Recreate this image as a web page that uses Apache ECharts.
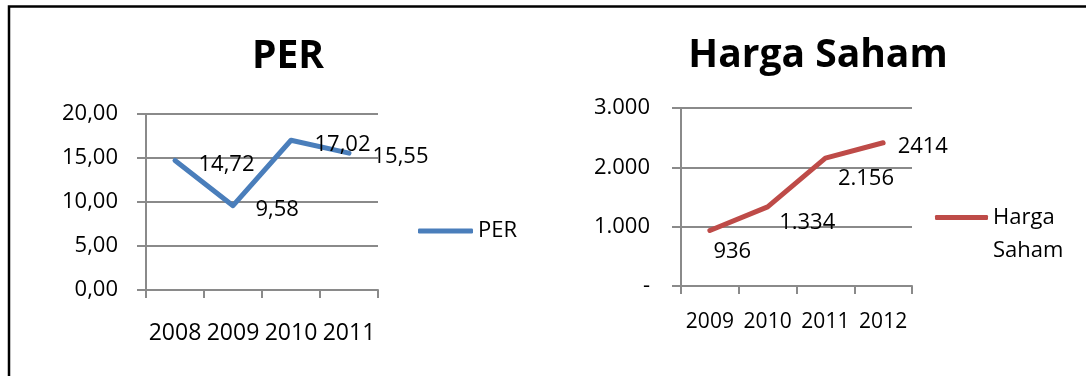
<!DOCTYPE html>
<html>
<head>
<meta charset="utf-8">
<title>PER dan Harga Saham</title>
<script src="https://cdn.jsdelivr.net/npm/echarts@6/dist/echarts.min.js"></script>
<style>
  html, body { margin: 0; padding: 0; background: #fff; }
  #chart { width: 1086px; height: 376px; }
</style>
</head>
<body>
<div id="chart"></div>
<script>
// data
var perYears = ['2008', '2009', '2010', '2011'];
var perValues = [14.72, 9.58, 17.02, 15.55];
var perTicks = [0, 5, 10, 15, 20];

var hargaYears = ['2009', '2010', '2011', '2012'];
var hargaValues = [936, 1334, 2156, 2414];
var hargaLabels = ['936', '1.334', '2.156', '2414'];
var hargaTicks = [0, 1000, 2000, 3000];

// where each data label sits next to its point
var perLabelOffset = [[23, 4], [22, 4], [23, 5], [23, 4]];
var hargaLabelOffset = [[3, 21], [11, 16], [12, 21], [14, 4]];

var FONT = '"Open Sans", "Noto Sans", sans-serif';
var GRAY = '#8a8a8a';
var BLUE = '#4a7ebb';
var RED = '#be4b48';

function thousand(v) {
  if (v === 0) return '-';
  return String(v).replace(/\B(?=(\d{3})+(?!\d))/g, '.');
}

function xAxisOf(idx, cats, size, margin) {
  return {
    type: 'category', gridIndex: idx, data: cats, boundaryGap: true,
    axisLine: { show: true, lineStyle: { color: GRAY, width: 2 } },
    axisTick: { show: true, length: 8, alignWithLabel: false, lineStyle: { color: GRAY, width: 2 } },
    axisLabel: { color: '#000', fontFamily: FONT, fontSize: size, margin: margin, interval: 0 },
    splitLine: { show: false }
  };
}

function yAxisOf(idx, ticks, margin, fmt) {
  return {
    type: 'value', gridIndex: idx,
    min: ticks[0], max: ticks[ticks.length - 1], interval: ticks[1] - ticks[0],
    axisLine: { show: true, lineStyle: { color: GRAY, width: 2 } },
    axisTick: { show: true, length: 9, lineStyle: { color: GRAY, width: 2 } },
    axisLabel: { color: '#000', fontFamily: FONT, fontSize: 22, margin: margin, formatter: fmt },
    splitLine: { show: true, lineStyle: { color: GRAY, width: 2 } }
  };
}

var chart = echarts.init(document.getElementById('chart'));
chart.setOption({
  animation: false,
  backgroundColor: '#fff',
  graphic: [{
    type: 'rect',
    shape: { x: 9, y: 6.5, width: 1200, height: 500 },
    style: { fill: 'none', stroke: '#000', lineWidth: 2.5 },
    silent: true
  }],
  title: [
    { text: 'PER', left: 288, top: 37, padding: 0, textAlign: 'center',
      textStyle: { fontFamily: FONT, fontWeight: 'bold', fontSize: 39, color: '#000' } },
    { text: 'Harga Saham', left: 818, top: 36, padding: 0, textAlign: 'center',
      textStyle: { fontFamily: FONT, fontWeight: 'bold', fontSize: 39, color: '#000' } }
  ],
  legend: [
    { data: ['PER'], left: 418, top: 220, padding: 0, orient: 'vertical',
      icon: 'roundRect', itemWidth: 55, itemHeight: 5,
      textStyle: { fontFamily: FONT, fontSize: 22, color: '#000' } },
    { data: ['Harga Saham'], left: 935, top: 168, padding: 0, orient: 'vertical',
      icon: 'roundRect', itemWidth: 53, itemHeight: 5,
      // blank first line so that "Harga" sits level with the line sample
      formatter: function () { return '\u00a0\nHarga\nSaham'; },
      textStyle: { fontFamily: FONT, fontSize: 22, color: '#000', lineHeight: 33 } }
  ],
  grid: [
    { left: 146, top: 114, width: 232, height: 176, outerBoundsMode: 'none', containLabel: false },
    { left: 681, top: 108, width: 231, height: 178, outerBoundsMode: 'none', containLabel: false }
  ],
  xAxis: [xAxisOf(0, perYears, 23, 32), xAxisOf(1, hargaYears, 21, 26)],
  yAxis: [
    yAxisOf(0, perTicks, 28, function (v) { return v.toFixed(2).replace('.', ','); }),
    yAxisOf(1, hargaTicks, 31, thousand)
  ],
  series: [
    {
      name: 'PER', type: 'line', xAxisIndex: 0, yAxisIndex: 0,
      data: perValues.map(function (v, i) { return { value: v, label: { offset: perLabelOffset[i] } }; }),
      symbol: 'circle', symbolSize: 1, showSymbol: true,
      itemStyle: { color: BLUE },
      lineStyle: { color: BLUE, width: 5, cap: 'round', join: 'round' },
      label: {
        show: true, position: 'right', distance: 0,
        fontFamily: FONT, fontSize: 22, color: '#000',
        formatter: function (p) { return p.value.toFixed(2).replace('.', ','); }
      }
    },
    {
      name: 'Harga Saham', type: 'line', xAxisIndex: 1, yAxisIndex: 1,
      data: hargaValues.map(function (v, i) { return { value: v, label: { offset: hargaLabelOffset[i] } }; }),
      symbol: 'circle', symbolSize: 1, showSymbol: true,
      itemStyle: { color: RED },
      lineStyle: { color: RED, width: 5, cap: 'round', join: 'round' },
      label: {
        show: true, position: 'right', distance: 0,
        fontFamily: FONT, fontSize: 22, color: '#000',
        formatter: function (p) { return hargaLabels[p.dataIndex]; }
      }
    }
  ]
});
</script>
</body>
</html>
